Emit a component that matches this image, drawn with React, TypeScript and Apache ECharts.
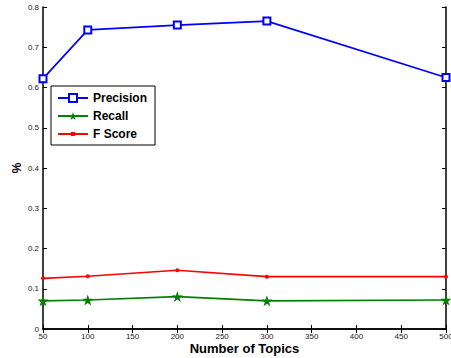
import React, { useEffect, useRef } from "react";
import * as echarts from "echarts";

const topics = [50, 100, 200, 300, 500];
const precision = [0.622, 0.743, 0.755, 0.765, 0.625];
const recall = [0.07, 0.072, 0.0805, 0.07, 0.072];
const fscore = [0.126, 0.131, 0.146, 0.13, 0.13];
const seriesNames = ["Precision", "Recall", "F Score"];

const starPath =
  "path://M50,0 L61.8,35.3 L97.6,34.5 L69,56.5 L79.4,90.5 L50,70 L20.6,90.5 L31,56.5 L2.4,34.5 L38.2,35.3 Z";

export default function App() {
  const ref = useRef<HTMLDivElement>(null);
  useEffect(() => {
    document.body.style.margin = "0";
    const chart = echarts.init(ref.current!, null, { renderer: "svg" });
    const font = "Liberation Sans, Arial, Helvetica, sans-serif";
    const mk = (d: number[]) => topics.map((t, i) => [t, d[i]]);
    const axisLine = { show: true, lineStyle: { color: "#000", width: 1.5 } };
    chart.setOption({
      animation: false,
      backgroundColor: "#fff",
      grid: { left: 43, right: 5, top: 7, bottom: 29, containLabel: false, outerBoundsMode: "none" },
      legend: {
        orient: "vertical",
        left: 51,
        top: 86,
        data: [
          { name: seriesNames[0] },
          { name: seriesNames[1] },
          { name: seriesNames[2], icon: "path://M0,4 L30,4 L30,6 L0,6 Z M13,3 L17,3 L17,7 L13,7 Z" },
        ],
        borderColor: "#000",
        borderWidth: 1,
        backgroundColor: "#fff",
        padding: [6, 8, 5, 6],
        itemGap: 6,
        itemWidth: 30,
        itemHeight: 10,
        textStyle: { fontFamily: font, fontSize: 12, fontWeight: "bold", color: "#000" },
      },
      xAxis: [
        {
          type: "value",
          min: 50,
          max: 500,
          interval: 50,
          name: "Number of Topics",
          nameLocation: "middle",
          nameGap: 13,
          nameMoveOverlap: false,
          nameTextStyle: { fontFamily: font, fontSize: 13, fontWeight: "bold", color: "#000" },
          axisLine,
          axisTick: { show: true, inside: true, length: 4, lineStyle: { color: "#000" } },
          axisLabel: { fontFamily: font, fontSize: 8, color: "#222", margin: 3 },
          splitLine: { show: false },
        },
        {
          type: "value",
          position: "top",
          min: 50,
          max: 500,
          interval: 50,
          axisLine,
          axisTick: { show: true, inside: true, length: 4, lineStyle: { color: "#000" } },
          axisLabel: { show: false },
          splitLine: { show: false },
        },
      ],
      yAxis: [
        {
          type: "value",
          min: 0,
          max: 0.8,
          interval: 0.1,
          name: "%",
          nameLocation: "middle",
          nameGap: 20,
          nameMoveOverlap: false,
          nameTextStyle: { fontFamily: font, fontSize: 12, fontWeight: "bold", color: "#000" },
          axisLine,
          axisTick: { show: true, inside: true, length: 4, lineStyle: { color: "#000" } },
          axisLabel: { fontFamily: font, fontSize: 8, color: "#222", margin: 4 },
          splitLine: { show: false },
        },
        {
          type: "value",
          position: "right",
          min: 0,
          max: 0.8,
          interval: 0.1,
          axisLine,
          axisTick: { show: true, inside: true, length: 4, lineStyle: { color: "#000" } },
          axisLabel: { show: false },
          splitLine: { show: false },
        },
      ],
      series: [
        {
          name: seriesNames[0],
          type: "line",
          data: mk(precision),
          symbol: "emptyRect",
          symbolSize: 7,
          color: "#0000ff",
          lineStyle: { color: "#0000ff", width: 1.7 },
          itemStyle: { color: "#0000ff", borderColor: "#0000ff", borderWidth: 1.3 },
        },
        {
          name: seriesNames[1],
          type: "line",
          data: mk(recall),
          symbol: starPath,
          symbolSize: 11,
          color: "#008000",
          lineStyle: { color: "#008000", width: 1.7 },
          itemStyle: { color: "#008000" },
        },
        {
          name: seriesNames[2],
          type: "line",
          data: mk(fscore),
          symbol: "circle",
          symbolSize: 4,
          color: "#ff0000",
          lineStyle: { color: "#ff0000", width: 1.7 },
          itemStyle: { color: "#ff0000" },
        },
      ],
    });
    return () => chart.dispose();
  }, []);
  return <div ref={ref} style={{ position: "fixed", left: 0, top: 0, width: 451, height: 358 }} />;
}
